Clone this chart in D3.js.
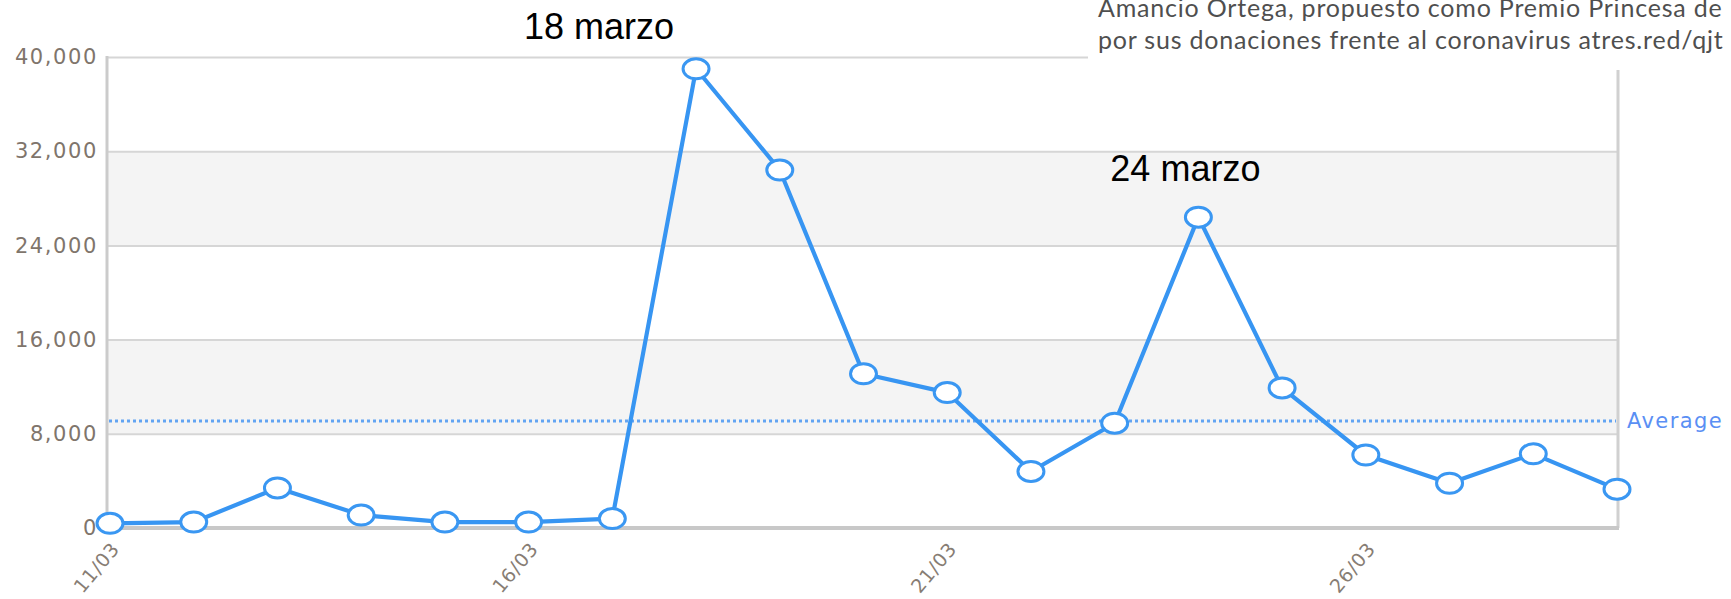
<!DOCTYPE html>
<html>
<head>
<meta charset="utf-8">
<script src="https://cdn.jsdelivr.net/npm/d3@7"></script>
<style>
  body { margin: 0; background: #fff; }
  svg { display: block; }
</style>
</head>
<body>
<div id="graph"></div>
<script>
// daily values, 11/03 .. 29/03
const dates = ['11/03','12/03','13/03','14/03','15/03','16/03','17/03','18/03','19/03','20/03',
               '21/03','22/03','23/03','24/03','25/03','26/03','27/03','28/03','29/03'];
const values = [400, 500, 3400, 1100, 500, 500, 800, 39000, 30400, 13100,
                11500, 4800, 8900, 26400, 11900, 6200, 3800, 6300, 3300];
const yTicks = [0, 8000, 16000, 24000, 32000, 40000];
const xTickLabels = ['11/03', '16/03', '21/03', '26/03'];
const bands = [[8000, 16000], [24000, 32000]];
const noteDays = ['18/03', '24/03'];
const noteTexts = ['18 marzo', '24 marzo'];
const tweet = ['Amancio Ortega, propuesto como Premio Princesa de',
               'por sus donaciones frente al coronavirus atres.red/qjt'];

const w = 1731, h = 599;
const padL = 107, padR = 1618, padT = 56, padB = 528;
// where each annotation sits relative to its point
const noteShift = [[-97, -30], [-13, -36]];

const svg = d3.select('#graph').append('svg').attr('width', w).attr('height', h);

const xScale = d3.scalePoint().domain(dates).range([padL + 3, padR - 1]);
const yScale = d3.scaleLinear().domain([0, 40000]).range([padB, padT + 1]);

// shaded bands
svg.selectAll('rect.band').data(bands).enter().append('rect')
    .attr('class', 'band')
    .attr('x', padL).attr('width', padR - padL)
    .attr('y', d => yScale(d[1])).attr('height', d => yScale(d[0]) - yScale(d[1]))
    .attr('fill', '#f4f4f4');

// grid
svg.append('g').attr('transform', 'translate(' + padL + ',0)')
    .call(d3.axisLeft(yScale).tickValues(yTicks).tickSize(-(padR - padL)).tickFormat(''))
    .call(g => g.select('.domain').remove())
    .call(g => g.selectAll('line').attr('stroke', '#d6d6d6').attr('stroke-width', 2));

// y axis labels
svg.append('g').attr('transform', 'translate(' + padL + ',0)')
    .call(d3.axisLeft(yScale).tickValues(yTicks).tickSize(0).tickPadding(9).tickFormat(d3.format(',')))
    .call(g => g.select('.domain').remove())
    .call(g => g.selectAll('text')
        .attr('fill', '#7f756c').style('font-family', 'DejaVu Sans').style('font-size', '21px')
        .style('letter-spacing', '1.6px'));

// frame
svg.append('line').attr('x1', padL).attr('x2', padL).attr('y1', padT).attr('y2', padB)
    .attr('stroke', '#cbcbcb').attr('stroke-width', 3);
svg.append('line').attr('x1', padR).attr('x2', padR).attr('y1', padT).attr('y2', padB)
    .attr('stroke', '#d0d0d0').attr('stroke-width', 3);
svg.append('line').attr('x1', padL).attr('x2', padR + 1).attr('y1', padB).attr('y2', padB)
    .attr('stroke', '#c8c8c8').attr('stroke-width', 4);

// x axis labels
const xAxis = svg.append('g').attr('transform', 'translate(0,' + padB + ')')
    .call(d3.axisBottom(xScale).tickValues(xTickLabels).tickSize(0).tickPadding(0))
    .call(g => g.select('.domain').remove());
xAxis.selectAll('text')
    .attr('fill', '#877d74').style('font-family', 'DejaVu Sans').style('font-size', '19px')
    .style('letter-spacing', '0.8px')
    .attr('y', 0).attr('text-anchor', 'end').attr('dy', '0.35em')
    .attr('transform', 'translate(5,17) rotate(-50)');

// average line
const avg = d3.mean(values);
svg.append('line').attr('x1', padL + 2).attr('x2', padR - 2)
    .attr('y1', yScale(avg)).attr('y2', yScale(avg))
    .attr('stroke', '#62a4f2').attr('stroke-width', 3).attr('stroke-dasharray', '3,3');
svg.append('text').attr('x', padR + 9).attr('y', yScale(avg)).attr('dy', '0.35em')
    .attr('fill', '#5a8ff4').style('font-family', 'DejaVu Sans').style('font-size', '21px')
    .style('letter-spacing', '1.4px').text('Average');

// series
const line = d3.line().x((d, i) => xScale(dates[i])).y(d => yScale(d));
svg.append('path').datum(values).attr('d', line)
    .attr('fill', 'none').attr('stroke', '#3795f2').attr('stroke-width', 4.2)
    .attr('stroke-linejoin', 'round');
svg.selectAll('ellipse').data(values).enter().append('ellipse')
    .attr('cx', (d, i) => xScale(dates[i])).attr('cy', d => yScale(d))
    .attr('rx', 13).attr('ry', 10)
    .attr('fill', '#fff').attr('stroke', '#3a97f2').attr('stroke-width', 3);

// annotations
svg.selectAll('text.note').data(noteTexts).enter().append('text')
    .attr('class', 'note')
    .attr('x', (d, i) => xScale(noteDays[i]) + noteShift[i][0])
    .attr('y', (d, i) => yScale(values[dates.indexOf(noteDays[i])]) + noteShift[i][1])
    .attr('text-anchor', 'middle')
    .style('font-family', 'Liberation Sans, Arial').style('font-size', '36px').attr('fill', '#000')
    .text(d => d);

// overlapping tweet box in the top right
svg.append('rect').attr('x', 1088).attr('y', 0).attr('width', w - 1088).attr('height', 70).attr('fill', '#fff');
svg.selectAll('text.tweet').data(tweet).enter().append('text')
    .attr('class', 'tweet')
    .attr('x', 1098).attr('y', (d, i) => 17 + i * 32)
    .attr('fill', '#4f4f4f').style('font-family', 'Lato').style('font-size', '25px')
    .style('letter-spacing', '0.8px')
    .text(d => d);
</script>
</body>
</html>
